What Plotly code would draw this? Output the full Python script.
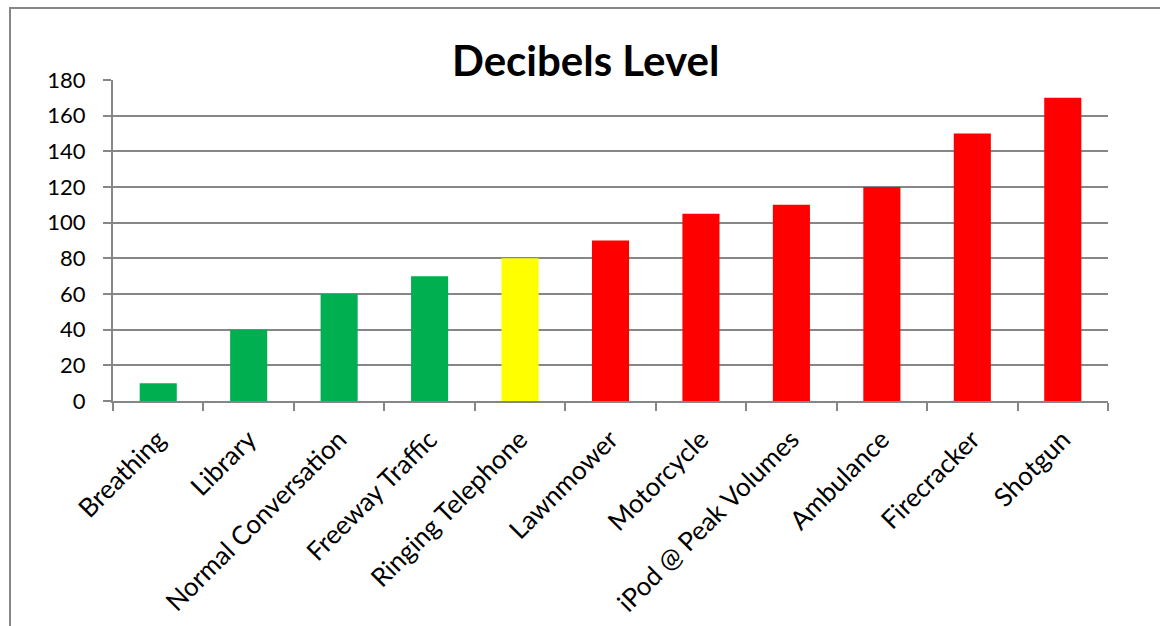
import plotly.graph_objects as go

categories = ["Breathing", "Library", "Normal Conversation", "Freeway Traffic",
              "Ringing Telephone", "Lawnmower", "Motorcycle", "iPod @ Peak Volumes",
              "Ambulance", "Firecracker", "Shotgun"]
decibels = [10, 40, 60, 70, 80, 90, 105, 110, 120, 150, 170]
bar_colors = ["#00B050", "#00B050", "#00B050", "#00B050", "#FFFF00",
              "#FF0000", "#FF0000", "#FF0000", "#FF0000", "#FF0000", "#FF0000"]
y_ticks = [0, 20, 40, 60, 80, 100, 120, 140, 160, 180]

W, H = 1160, 626
L, R, T, B = 113, 52, 80, 225
pw, ph = W - L - R, H - T - B

def px_x(p):
    return (p - L) / pw

def px_y(p):
    return (H - B - p) / ph

FONT = "Lato, Calibri, Carlito, sans-serif"
GRAY = "#868686"

fig = go.Figure(go.Bar(x=categories, y=decibels, marker=dict(color=bar_colors, line=dict(width=0)),
                       width=0.41))

fig.update_layout(
    width=W, height=H,
    margin=dict(l=L, r=R, t=T, b=B, pad=0, autoexpand=False),
    paper_bgcolor="white", plot_bgcolor="white",
    showlegend=False,
    font=dict(family=FONT, size=20, color="black"),
    annotations=[dict(text="<b>Decibels Level</b>", xref="paper", yref="paper",
                      x=px_x(585), y=px_y(60), xanchor="center", yanchor="middle",
                      showarrow=False, font=dict(family=FONT, size=42, color="black"))],
    shapes=[dict(type="rect", xref="paper", yref="paper",
                 x0=px_x(10), x1=px_x(1175), y0=px_y(640), y1=px_y(8),
                 line=dict(color=GRAY, width=2), layer="below")],
)
fig.update_xaxes(type="category", showline=True, linecolor=GRAY, linewidth=2,
                 ticks="outside", tickson="boundaries", ticklen=8, tickcolor=GRAY, tickwidth=2,
                 tickangle=-45, showgrid=False, tickfont=dict(size=26, family=FONT),
                 ticklabelstandoff=11, automargin=False,
                 range=[-0.5, len(categories) - 0.5])
fig.update_yaxes(range=[0, 180], tickvals=y_ticks, showline=True, linecolor=GRAY, linewidth=2,
                 ticks="outside", ticklen=8, tickcolor=GRAY, tickwidth=2,
                 showgrid=True, gridcolor=GRAY, gridwidth=2, zeroline=False,
                 ticklabelstandoff=13, automargin=False,
                 tickfont=dict(size=22, family=FONT))

fig.write_html("out.html")
